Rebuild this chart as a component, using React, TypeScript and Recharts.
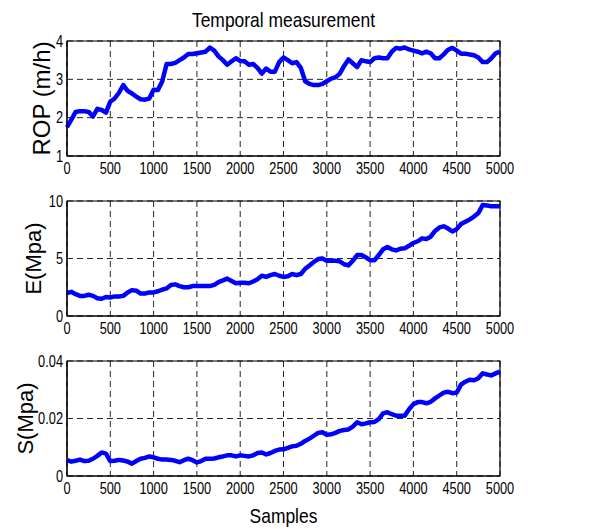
import { LineChart, Line, XAxis, YAxis, CartesianGrid, ReferenceArea } from "recharts";

const SAMPLES = [
  0, 50, 100, 150, 200, 250, 300, 350, 400, 450,
  500, 550, 600, 650, 700, 750, 800, 850, 900, 950,
  1000, 1050, 1100, 1150, 1200, 1250, 1300, 1350, 1400, 1450,
  1500, 1550, 1600, 1650, 1700, 1750, 1800, 1850, 1900, 1950,
  2000, 2050, 2100, 2150, 2200, 2250, 2300, 2350, 2400, 2450,
  2500, 2550, 2600, 2650, 2700, 2750, 2800, 2850, 2900, 2950,
  3000, 3050, 3100, 3150, 3200, 3250, 3300, 3350, 3400, 3450,
  3500, 3550, 3600, 3650, 3700, 3750, 3800, 3850, 3900, 3950,
  4000, 4050, 4100, 4150, 4200, 4250, 4300, 4350, 4400, 4450,
  4500, 4550, 4600, 4650, 4700, 4750, 4800, 4850, 4900, 4950,
  5000,
];

const ROP = [
  1.75, 1.95, 2.15, 2.17, 2.17, 2.15, 2.03, 2.23, 2.2, 2.13,
  2.42, 2.5, 2.65, 2.85, 2.7, 2.63, 2.55, 2.48, 2.47, 2.5,
  2.73, 2.72, 2.95, 3.4, 3.4, 3.43, 3.5, 3.57, 3.66, 3.66,
  3.68, 3.7, 3.72, 3.83, 3.75, 3.6, 3.5, 3.38, 3.47, 3.55,
  3.48, 3.47, 3.38, 3.4, 3.3, 3.15, 3.28, 3.2, 3.2, 3.45,
  3.57, 3.5, 3.42, 3.45, 3.3, 2.95, 2.88, 2.85, 2.85, 2.88,
  2.95, 3.02, 3.05, 3.15, 3.35, 3.52, 3.42, 3.32, 3.5, 3.47,
  3.45, 3.55, 3.57, 3.55, 3.55, 3.72, 3.82, 3.8, 3.83, 3.78,
  3.75, 3.72, 3.68, 3.72, 3.68, 3.55, 3.55, 3.65, 3.77, 3.82,
  3.75, 3.67, 3.67, 3.65, 3.63, 3.57, 3.45, 3.45, 3.55, 3.68,
  3.72,
];

const E_MPA = [
  2.0, 2.1, 1.9, 1.75, 1.75, 1.85, 1.75, 1.55, 1.5, 1.65,
  1.6, 1.7, 1.7, 1.75, 2.05, 2.25, 2.2, 1.95, 1.95, 2.05,
  2.05, 2.15, 2.3, 2.4, 2.7, 2.75, 2.6, 2.5, 2.5, 2.6,
  2.6, 2.6, 2.6, 2.6, 2.7, 2.95, 3.1, 3.25, 3.05, 2.85,
  2.9, 2.9, 2.85, 3.0, 3.2, 3.5, 3.4, 3.55, 3.65, 3.5,
  3.4, 3.45, 3.65, 3.55, 3.65, 4.1, 4.4, 4.7, 4.95, 5.0,
  4.8, 4.8, 4.8, 4.75, 4.5, 4.4, 4.8, 5.3, 5.3, 5.1,
  4.85, 4.85, 5.3, 5.8, 6.0, 5.8, 5.7, 5.85, 5.9, 6.1,
  6.35, 6.5, 6.75, 6.7, 6.9, 7.4, 7.7, 7.8, 7.6, 7.35,
  7.55, 8.0, 8.2, 8.4, 8.65, 8.95, 9.65, 9.6, 9.55, 9.55,
  9.55,
];

const S_MPA = [
  0.0055, 0.005, 0.0053, 0.0057, 0.0052, 0.0053, 0.006, 0.007, 0.0082, 0.0078,
  0.0052, 0.0053, 0.0056, 0.0054, 0.005, 0.0043, 0.0052, 0.006, 0.0063, 0.0068,
  0.0065, 0.006, 0.0057, 0.0057, 0.0056, 0.0053, 0.0048, 0.0055, 0.006, 0.0055,
  0.0047, 0.0052, 0.006, 0.006, 0.0061, 0.0065, 0.0068, 0.0072, 0.0072, 0.0068,
  0.0072, 0.007, 0.0068, 0.0072, 0.008, 0.0082, 0.0075, 0.008, 0.0087, 0.0092,
  0.0093, 0.0098, 0.0103, 0.0105, 0.0112, 0.0122, 0.013, 0.014, 0.015, 0.0152,
  0.0143, 0.0145, 0.015, 0.0157, 0.016, 0.0162, 0.0172, 0.0187, 0.018, 0.0183,
  0.0187, 0.0188, 0.0198, 0.0218, 0.0222, 0.0215, 0.021, 0.021, 0.021, 0.0232,
  0.025, 0.0257, 0.0257, 0.0253, 0.0258, 0.027, 0.028, 0.029, 0.0293, 0.0288,
  0.029, 0.0318, 0.0328, 0.0335, 0.0333, 0.034, 0.0357, 0.0353, 0.035, 0.0357,
  0.0363,
];

const X_TICKS = [0, 500, 1000, 1500, 2000, 2500, 3000, 3500, 4000, 4500, 5000];
const ROP_TICKS = [1, 2, 3, 4];
const E_TICKS = [0, 5, 10];
const S_TICKS = [0, 0.02, 0.04];

const TITLE = "Temporal measurement";
const X_LABEL = "Samples";

const SANS = "Arial, 'Liberation Sans', Helvetica, sans-serif";
const SQUEEZE = 0.8; // matlab export looks horizontally squashed

// tick text, squashed sideways like the exported figure
const XTick = (props: any) => {
  const { x, y, payload } = props;
  return (
    <text
      transform={`translate(${x},${y}) scale(${SQUEEZE},1)`}
      textAnchor="middle"
      dy="0.71em"
      fontSize={16}
      fontFamily={SANS}
      fill="#000"
    >
      {payload.value}
    </text>
  );
};

const makeYTick = (fmt?: (v: number) => string) => (props: any) => {
  const { x, y, payload } = props;
  return (
    <text
      transform={`translate(${x},${y}) scale(${SQUEEZE},1)`}
      textAnchor="end"
      dy="0.355em"
      fontSize={16}
      fontFamily={SANS}
      fill="#000"
    >
      {fmt ? fmt(payload.value) : payload.value}
    </text>
  );
};

interface PanelProps {
  values: number[];
  domain: [number, number];
  ticks: number[];
  label: string;
  labelX: number;
  labelSize: number;
  top: number;
  fmt?: (v: number) => string;
}

function Panel({ values, domain, ticks, label, labelX, labelSize, top, fmt }: PanelProps) {
  const data = SAMPLES.map((s, i) => ({ s, v: values[i] }));
  return (
    <div style={{ position: "absolute", left: 0, top }}>
      <LineChart width={602} height={190} data={data} margin={{ top: 41, right: 102, bottom: 4, left: 0 }}>
        <CartesianGrid stroke="#222" strokeDasharray="6 4" strokeWidth={1} />
        <XAxis
          dataKey="s"
          type="number"
          domain={[0, 5000]}
          ticks={X_TICKS}
          interval={0}
          height={30}
          tickLine={false}
          tickSize={0}
          tickMargin={7}
          tick={<XTick />}
          axisLine={{ stroke: "#000" }}
        />
        <YAxis
          type="number"
          domain={domain}
          ticks={ticks}
          interval={0}
          width={67}
          tickLine={false}
          tickSize={0}
          tickMargin={4}
          tick={makeYTick(fmt)}
          axisLine={{ stroke: "#000" }}
          label={(props: any) => {
            const vb = props.viewBox || {};
            const cy = (vb.y || 0) + (vb.height || 0) / 2;
            return (
              <text
                x={labelX}
                y={cy}
                transform={`rotate(-90, ${labelX}, ${cy})`}
                textAnchor="middle"
                fontSize={labelSize}
                fontFamily={SANS}
                fill="#000"
              >
                {label}
              </text>
            );
          }}
        />
        <ReferenceArea x1={0} x2={5000} y1={domain[0]} y2={domain[1]} fill="none" stroke="#000" strokeWidth={1.2} />
        <Line
          type="linear"
          dataKey="v"
          stroke="#0000ff"
          strokeWidth={4.5}
          strokeLinejoin="round"
          dot={false}
          isAnimationActive={false}
        />
      </LineChart>
    </div>
  );
}

const textBox = {
  position: "absolute" as const,
  left: 67,
  width: 433,
  textAlign: "center" as const,
  fontSize: 21,
  lineHeight: "21px",
  fontFamily: SANS,
  color: "#000",
  transform: "scaleX(0.83)",
};

export default function App() {
  return (
    <div style={{ position: "absolute", left: 0, top: 0, width: 602, height: 529, background: "#fff" }}>
      <div style={{ ...textBox, top: 9 }}>{TITLE}</div>
      <Panel values={ROP} domain={[1, 4]} ticks={ROP_TICKS} label="ROP (m/h)" labelX={50} labelSize={24} top={0} />
      <Panel values={E_MPA} domain={[0, 10]} ticks={E_TICKS} label="E(Mpa)" labelX={41} labelSize={22} top={160} />
      <Panel
        values={S_MPA}
        domain={[0, 0.04]}
        ticks={S_TICKS}
        label="S(Mpa)"
        labelX={33}
        labelSize={22}
        top={320}
        fmt={(v: number) => (v === 0 ? "0" : v.toFixed(2))}
      />
      <div style={{ ...textBox, top: 505 }}>{X_LABEL}</div>
    </div>
  );
}
